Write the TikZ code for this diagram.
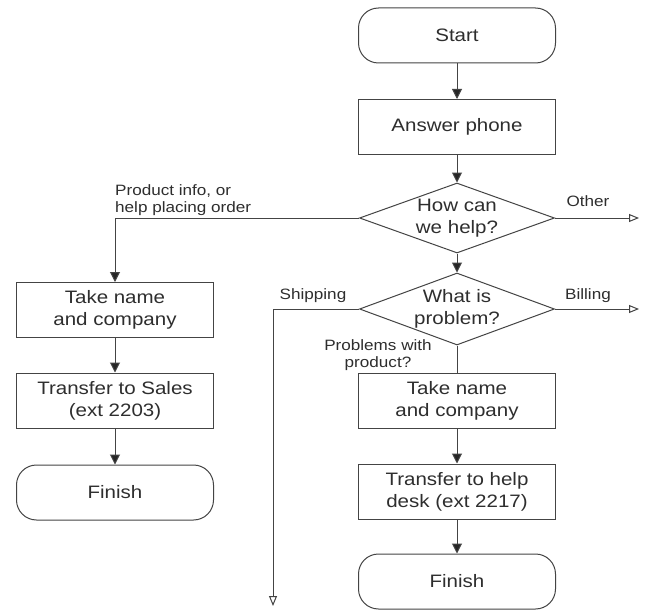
\documentclass[tikz,border=0pt]{standalone}
\usepackage{fontspec}
\setmainfont{Liberation Sans}[FakeStretch=1.14]
\usetikzlibrary{shapes.geometric,arrows.meta}
\definecolor{ink}{HTML}{444444}
\definecolor{head}{HTML}{262626}
\definecolor{txt}{HTML}{2E2E2E}

\begin{document}
\begin{tikzpicture}[x=1pt,y=-1pt,
  every node/.style={text=txt, font=\fontsize{18}{22}\selectfont, align=center},
  proc/.style={draw=ink, line width=1pt, minimum width=197pt, minimum height=55pt, inner sep=0pt},
  term/.style={proc, rounded corners=20pt},
  decision/.style={draw=ink, line width=1pt, diamond, aspect=2.8,
    minimum width=195pt, minimum height=70pt, inner sep=0pt},
  flow/.style={draw=ink, line width=1pt, -{Triangle[length=10pt,width=10pt,fill=head]}},
  exit/.style={draw=ink, line width=1pt, -{Triangle[open,length=10pt,width=8pt]}},
  plain/.style={draw=ink, line width=1pt},
  lbl/.style={font=\fontsize{15}{17}\selectfont, inner sep=0pt}
]
% canvas
\fill[white] (0,0) rectangle (646,610);
\useasboundingbox (0,0) rectangle (646,610);

% main column
\node[term] (start) at (457,35.5) {Start};
\node[proc] (answer) at (457,127) {Answer phone};
\node[decision] (q1) at (457,218) {};
\node (q1t) at (q1.center) {How can\\we help?};
\node[decision, minimum height=72pt] (q2) at (457,309) {};
\node (q2t) at (q2.center) {What is\\problem?};
\node[proc] (takeR) at (457,400.5) {Take name\\and company};
\node[proc] (help) at (457,491.5) {Transfer to help\\desk (ext 2217)};
\node[term] (finR) at (457,581.5) {Finish};

% sales column
\node[proc] (takeL) at (115,310) {Take name\\and company};
\node[proc] (sales) at (115,400.5) {Transfer to Sales\\(ext 2203)};
\node[term] (finL) at (115,492.5) {Finish};

% open ends
\coordinate (other) at (639,218);
\coordinate (bill) at (639,309);
\coordinate (ship) at (273,606);

% connectors
\draw[flow] (start) -- (answer);
\draw[flow] (answer) -- (q1);
\draw[flow] (q1.west) -| (takeL.north);
\draw[exit] (q1.east) -- (other);
\draw[flow] (q1) -- (q2);
\draw[exit] (q2.west) -| (ship);
\draw[exit] (q2.east) -- (bill);
\draw[plain] (q2.south) -- (takeR.north);
\draw[flow] (takeR) -- (help);
\draw[flow] (help) -- (finR);
\draw[flow] (takeL) -- (sales);
\draw[flow] (sales) -- (finL);

% branch labels
\node[lbl, anchor=south west, align=left] (lprod) at (115,215.5) {Product info, or\\help placing order};
\node[lbl, anchor=base] (lother) at (588,206) {Other};
\node[lbl, anchor=base] (lship) at (313,299) {Shipping};
\node[lbl, anchor=base] (lbill) at (588,299) {Billing};
\node[lbl, anchor=south] (lprob) at (378,371) {Problems with\\product?};
\end{tikzpicture}
\end{document}
